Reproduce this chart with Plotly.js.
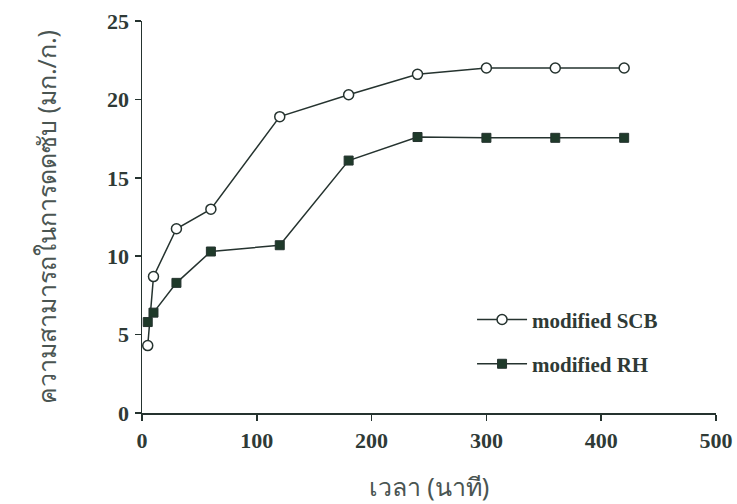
<!DOCTYPE html>
<html>
<head>
<meta charset="utf-8">
<script src="https://cdn.plot.ly/plotly-3.0.1.min.js"></script>
<style>html,body{margin:0;padding:0;background:#fff;}#chart{width:737px;height:504px;}</style>
</head>
<body>
<div id="chart"></div>
<script>
var timeMin = [5, 10, 30, 60, 120, 180, 240, 300, 360, 420];
var scbCapacity = [4.3, 8.7, 11.75, 13.0, 18.9, 20.3, 21.6, 22.0, 22.0, 22.0];
var rhCapacity = [5.8, 6.4, 8.3, 10.3, 10.7, 16.1, 17.6, 17.55, 17.55, 17.55];
var seriesNames = ['modified SCB', 'modified RH'];
var xTicks = [0, 100, 200, 300, 400, 500];
var yTicks = [0, 5, 10, 15, 20, 25];

var lineColor = '#25332f';
var traces = [
  {x: timeMin, y: scbCapacity, name: seriesNames[0], mode: 'lines+markers', legendgroup: 'a',
   line: {color: lineColor, width: 1.5},
   marker: {symbol: 'circle', size: 10, color: '#ffffff', line: {color: lineColor, width: 1.5}}},
  {x: timeMin, y: rhCapacity, name: seriesNames[1], mode: 'lines+markers', legendgroup: 'b',
   line: {color: lineColor, width: 1.5},
   marker: {symbol: 'square', size: 9, color: '#1f3a2a', line: {color: lineColor, width: 1}}}
];
var tickFont = {family: 'Liberation Serif, Times New Roman, serif', size: 22, color: '#2f3a36', weight: 'bold'};
var layout = {
  width: 737, height: 504,
  margin: {l: 142, r: 21, t: 21, b: 91},
  paper_bgcolor: '#ffffff', plot_bgcolor: '#ffffff',
  showlegend: true,
  legend: {x: 0.575, y: 0.29, xanchor: 'left', yanchor: 'top', bgcolor: 'rgba(0,0,0,0)',
           traceorder: 'grouped', tracegroupgap: 14, itemwidth: 50,
           font: {family: 'Liberation Serif, Times New Roman, serif', size: 21, color: '#2f3a36', weight: 'bold'}},
  xaxis: {range: [0, 500], tickvals: xTicks, ticktext: xTicks.map(String), showgrid: false, zeroline: false,
          showline: true, linecolor: lineColor, linewidth: 1.5, ticks: 'outside', ticklen: 6, tickcolor: lineColor, tickwidth: 1.5,
          tickfont: tickFont, ticklabelstandoff: 1,
          title: {text: 'เวลา (นาที)', standoff: 26, font: {family: 'Noto Sans, sans-serif', size: 25, color: '#4a5552'}}},
  yaxis: {range: [0, 25], tickvals: yTicks, ticktext: yTicks.map(String), showgrid: false, zeroline: false,
          showline: true, linecolor: lineColor, linewidth: 1.5, ticks: 'outside', ticklen: 6, tickcolor: lineColor, tickwidth: 1.5,
          tickfont: tickFont, ticklabelstandoff: 1,
          title: {text: 'ความสามารถในการดดซับ (มก./ก.)', standoff: 43, font: {family: 'Noto Sans, sans-serif', size: 25, color: '#4a5552'}}}
};
Plotly.newPlot('chart', traces, layout, {displayModeBar: false, staticPlot: true});
</script>
</body>
</html>
